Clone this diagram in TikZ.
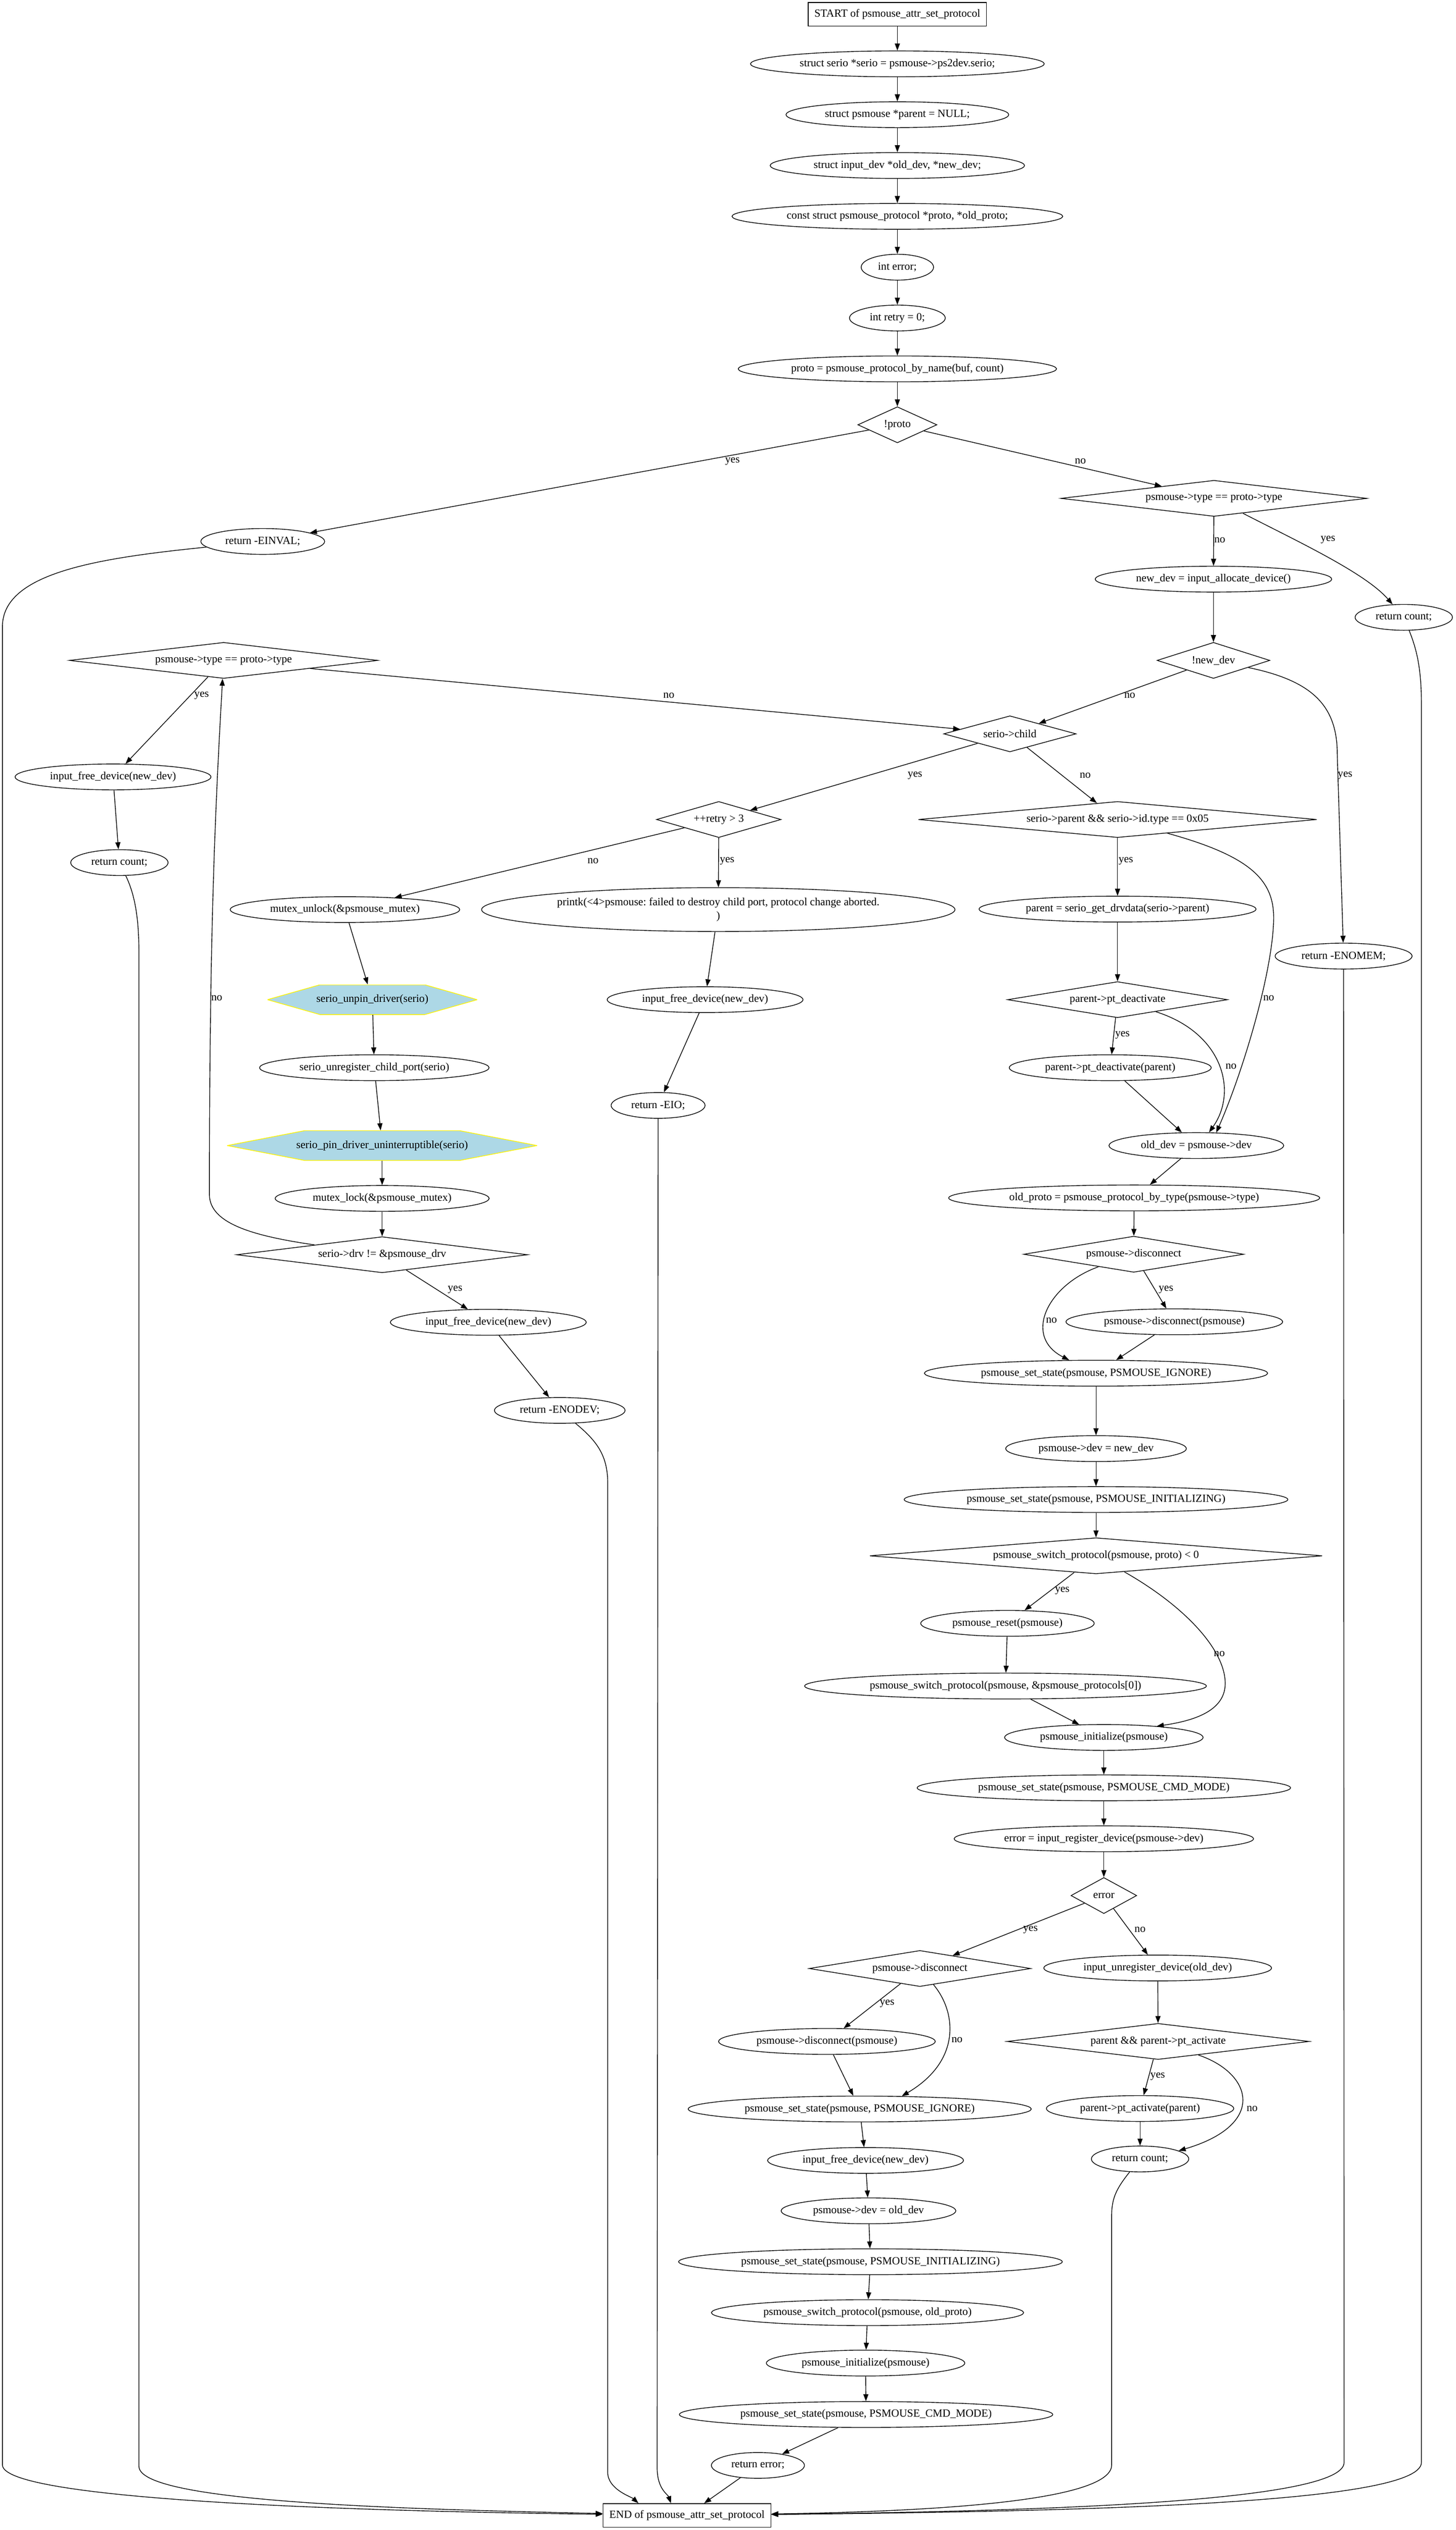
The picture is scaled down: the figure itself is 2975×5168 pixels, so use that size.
\documentclass[tikz,border=0pt]{standalone}
\usepackage{fontspec}
\setmainfont{Liberation Serif}
\usepackage{tikz}
\usetikzlibrary{positioning}
\usetikzlibrary{shapes.geometric}
\usetikzlibrary{arrows.meta}
\definecolor{hexblue}{HTML}{ADD8E6}
\frenchspacing

\begin{document}
\begin{tikzpicture}[
                          x=0.625pt, y=-0.625pt,
                          font=\fontsize{14}{17.5}\selectfont,
                          line width=0.9pt,
                          >={Triangle[length=9pt, width=6.5pt]},
                          node distance=31pt,
                          roundnode/.style={ellipse, draw, inner xsep=8pt, inner ysep=2pt, minimum height=33pt},
                          squarednode/.style={rectangle, draw, inner xsep=8pt, minimum height=30pt},
                          diamondnode/.style 2 args={diamond, draw, inner sep=0pt, minimum width=#1, minimum height=46pt, aspect=#2},
                          hexnode/.style={rectangle, inner sep=0pt, minimum width=#1, minimum height=38pt,
                              path picture={\filldraw[fill=hexblue, draw=yellow]
                                  (path picture bounding box.west) -- ([xshift=#1/4]path picture bounding box.north west)
                                  -- ([xshift=-#1/4]path picture bounding box.north east) -- (path picture bounding box.east)
                                  -- ([xshift=-#1/4]path picture bounding box.south east) -- ([xshift=#1/4]path picture bounding box.south west) -- cycle;}},
                          edgelabel/.style={inner sep=0pt},
                      ]
                      \useasboundingbox (0,0) rectangle (2975,5168);
                      % Nodes
                      \node[squarednode]      (start)    at (1834,29)     {START of psmouse\_attr\_set\_protocol};
                      \node[roundnode]        (serio_ptr)      [below=of start]      {struct serio *serio = psmouse->ps2dev.serio;};
                      \node[roundnode]        (parent_ptr)     [below=of serio_ptr]  {struct psmouse *parent = NULL;};
                      \node[roundnode]        (dev_ptrs)       [below=of parent_ptr] {struct input\_dev *old\_dev, *new\_dev;};
                      \node[roundnode]        (proto_ptrs)     [below=of dev_ptrs]   {const struct psmouse\_protocol *proto, *old\_proto;};
                      \node[roundnode]        (int_error)      [below=of proto_ptrs] {int error;};
                      \node[roundnode]        (int_retry)      [below=of int_error]  {int retry = 0;};
                      \node[roundnode]        (proto_by_name)  [below=of int_retry]  {proto = psmouse\_protocol\_by\_name(buf, count)};
                      \node[diamondnode={101pt}{2.19}] (proto_chk) [below=of proto_by_name] {!proto};

                      \node[roundnode]        (einval)   at (537,1106)    {return -EINVAL;};
                      \node[diamondnode={391pt}{8.45}] (type_chk_1) at (2481,1018) {psmouse->type == proto->type};
                      \node[roundnode]        (ret_count_1)   at (2869,1261)  {return count;};
                      \node[roundnode]        (new_dev)  at (2480,1183)   {new\_dev = input\_allocate\_device()};
                      \node[diamondnode={144pt}{3.12}] (new_dev_chk) at (2480,1349) {!new\_dev};
                      \node[diamondnode={394pt}{8.5}]  (type_chk_2)  at (457,1349)  {psmouse->type == proto->type};
                      \node[diamondnode={169pt}{3.66}] (child_chk)   at (2064,1499) {serio->child};
                      \node[roundnode]        (free_dev_1)    at (231,1587)   {input\_free\_device(new\_dev)};
                      \node[roundnode]        (ret_count_2)   at (244,1762)   {return count;};
                      \node[diamondnode={159pt}{3.43}] (retry_chk)   at (1469,1674) {++retry > 3};
                      \node[diamondnode={509pt}{11}]   (parent_chk)  at (2284,1674) {serio->parent \&\& serio->id.type == 0x05};
                      \node[roundnode]        (enomem)   at (2746,1953)   {return -ENOMEM;};
                      \node[roundnode]        (mutex_unlock)  at (705,1858)   {mutex\_unlock(\&psmouse\_mutex)};
                      \node[roundnode, minimum height=56pt, align=center] (printk) at (1468,1858) {printk(<4>psmouse: failed to destroy child port, protocol change aborted.\\)};
                      \node[roundnode]        (get_parent)    at (2284,1857)  {parent = serio\_get\_drvdata(serio->parent)};
                      \node[hexnode=268pt]    (unpin)    at (761,2042)    {serio\_unpin\_driver(serio)};
                      \node[roundnode]        (free_dev_2)    at (1441,2042)  {input\_free\_device(new\_dev)};
                      \node[diamondnode={281pt}{6.08}] (deact_chk)   at (2284,2042) {parent->pt\_deactivate};
                      \node[roundnode]        (unreg_child)   at (765,2181)   {serio\_unregister\_child\_port(serio)};
                      \node[roundnode]        (eio)      at (1345,2258)   {return -EIO;};
                      \node[roundnode]        (deactivate)    at (2269,2181)  {parent->pt\_deactivate(parent)};
                      \node[hexnode=396pt]    (pin)      at (781,2340)    {serio\_pin\_driver\_uninterruptible(serio)};
                      \node[roundnode]        (old_dev)  at (2445,2340)   {old\_dev = psmouse->dev};
                      \node[roundnode]        (mutex_lock)    at (781,2448)   {mutex\_lock(\&psmouse\_mutex)};
                      \node[roundnode]        (old_proto)     at (2318,2447)  {old\_proto = psmouse\_protocol\_by\_type(psmouse->type)};
                      \node[diamondnode={372pt}{8.05}] (drv_chk)     at (781,2563)  {serio->drv != \&psmouse\_drv};
                      \node[diamondnode={281pt}{6.08}] (disc_chk_1)  at (2317,2562) {psmouse->disconnect};
                      \node[roundnode]        (free_dev_3)    at (998,2701)   {input\_free\_device(new\_dev)};
                      \node[roundnode]        (disconnect_1)  at (2400,2700)  {psmouse->disconnect(psmouse)};
                      \node[roundnode]        (ignore_1)      at (2240,2805)  {psmouse\_set\_state(psmouse, PSMOUSE\_IGNORE)};
                      \node[roundnode]        (enodev)   at (1144,2881)   {return -ENODEV;};
                      \node[roundnode]        (dev_new)  at (2240,2959)   {psmouse->dev = new\_dev};
                      \node[roundnode]        (init_state_1)  at (2240,3063)  {psmouse\_set\_state(psmouse, PSMOUSE\_INITIALIZING)};
                      \node[diamondnode={578pt}{12.5}] (switch_chk)  at (2240,3178) {psmouse\_switch\_protocol(psmouse, proto) < 0};
                      \node[roundnode]        (reset)    at (2059,3316)   {psmouse\_reset(psmouse)};
                      \node[roundnode]        (switch_default) at (2055,3444) {psmouse\_switch\_protocol(psmouse, \&psmouse\_protocols[0])};
                      \node[roundnode]        (initialize_1)  at (2256,3549)  {psmouse\_initialize(psmouse)};
                      \node[roundnode]        (cmd_mode_1)    at (2256,3652)  {psmouse\_set\_state(psmouse, PSMOUSE\_CMD\_MODE)};
                      \node[roundnode]        (register_dev)  at (2256,3756)  {error = input\_register\_device(psmouse->dev)};
                      \node[diamondnode={84pt}{1.82}]  (error_chk)   at (2256,3872) {error};
                      \node[diamondnode={283pt}{6.1}]  (disc_chk_2)  at (1880,4021) {psmouse->disconnect};
                      \node[roundnode]        (unregister)    at (2366,4020)  {input\_unregister\_device(old\_dev)};
                      \node[roundnode]        (disconnect_2)  at (1690,4170)  {psmouse->disconnect(psmouse)};
                      \node[diamondnode={386pt}{8.34}] (activate_chk) at (2367,4170) {parent \&\& parent->pt\_activate};
                      \node[roundnode]        (ignore_2)      at (1757,4308)  {psmouse\_set\_state(psmouse, PSMOUSE\_IGNORE)};
                      \node[roundnode]        (activate)      at (2330,4307)  {parent->pt\_activate(parent)};
                      \node[roundnode]        (free_dev_4)    at (1769,4413)  {input\_free\_device(new\_dev)};
                      \node[roundnode]        (ret_count_3)   at (2330,4410)  {return count;};
                      \node[roundnode]        (dev_old)  at (1775,4516)   {psmouse->dev = old\_dev};
                      \node[roundnode]        (init_state_2)  at (1779,4620)  {psmouse\_set\_state(psmouse, PSMOUSE\_INITIALIZING)};
                      \node[roundnode]        (switch_old)    at (1773,4724)  {psmouse\_switch\_protocol(psmouse, old\_proto)};
                      \node[roundnode]        (initialize_2)  at (1769,4827)  {psmouse\_initialize(psmouse)};
                      \node[roundnode]        (cmd_mode_2)    at (1770,4932)  {psmouse\_set\_state(psmouse, PSMOUSE\_CMD\_MODE)};
                      \node[roundnode]        (ret_error)     at (1549,5036)  {return error;};
                      \node[squarednode]      (finish)   at (1404,5138)   {END of psmouse\_attr\_set\_protocol};

                      %Lines
                      \draw[->] (start) -- (serio_ptr);
                      \draw[->] (serio_ptr) -- (parent_ptr);
                      \draw[->] (parent_ptr) -- (dev_ptrs);
                      \draw[->] (dev_ptrs) -- (proto_ptrs);
                      \draw[->] (proto_ptrs) -- (int_error);
                      \draw[->] (int_error) -- (int_retry);
                      \draw[->] (int_retry) -- (proto_by_name);
                      \draw[->] (proto_by_name) -- (proto_chk);
                      \draw[->] (proto_chk) -- (einval) node[edgelabel] at (1497,942) {yes};
                      \draw[->] (proto_chk) -- (type_chk_1) node[edgelabel] at (2208,942) {no};
                      \draw[->] (type_chk_1) -- (new_dev) node[edgelabel] at (2493,1103) {no};
                      \draw[->] (type_chk_1) .. controls (2650,1105) and (2790,1170) .. (ret_count_1) node[edgelabel] at (2714,1103) {yes};
                      \draw[->] (new_dev) -- (new_dev_chk);
                      \draw[->] (new_dev_chk) -- (child_chk) node[edgelabel] at (2309,1421) {no};
                      \draw[->] (new_dev_chk) .. controls (2680,1390) and (2733,1440) .. (2733,1540) -- (enomem) node[edgelabel] at (2749,1584) {yes};
                      \draw[->] (type_chk_2) -- (free_dev_1) node[edgelabel] at (412,1421) {yes};
                      \draw[->] (type_chk_2) -- (child_chk) node[edgelabel] at (1367,1421) {no};
                      \draw[->] (free_dev_1) -- (ret_count_2);
                      \draw[->] (child_chk) -- (retry_chk) node[edgelabel] at (1870,1584) {yes};
                      \draw[->] (child_chk) -- (parent_chk) node[edgelabel] at (2218,1584) {no};
                      \draw[->] (retry_chk) -- (mutex_unlock) node[edgelabel] at (1212,1759) {no};
                      \draw[->] (retry_chk) -- (printk) node[edgelabel] at (1486,1759) {yes};
                      \draw[->] (printk) -- (free_dev_2);
                      \draw[->] (free_dev_2) -- (eio);
                      \draw[->] (mutex_unlock) -- (unpin);
                      \draw[->] (unpin) -- (unreg_child);
                      \draw[->] (unreg_child) -- (pin);
                      \draw[->] (pin) -- (mutex_lock);
                      \draw[->] (mutex_lock) -- (drv_chk);
                      \draw[->] (drv_chk) .. controls (520,2525) and (428,2500) .. (428,2440) .. controls (428,1900) and (440,1650) .. (type_chk_2) node[edgelabel] at (443,2039) {no};
                      \draw[->] (drv_chk) -- (free_dev_3) node[edgelabel] at (930,2634) {yes};
                      \draw[->] (free_dev_3) -- (enodev);
                      \draw[->] (parent_chk) -- (get_parent) node[edgelabel] at (2301,1759) {yes};
                      \draw[->] (parent_chk) .. controls (2560,1750) and (2605,1800) .. (2603,1880) .. controls (2600,1990) and (2540,2190) .. (old_dev.33) node[edgelabel] at (2593,2039) {no};
                      \draw[->] (get_parent) -- (deact_chk);
                      \draw[->] (deact_chk) -- (deactivate) node[edgelabel] at (2294,2114) {yes};
                      \draw[->] (deact_chk) .. controls (2500,2110) and (2530,2230) .. (old_dev.46) node[edgelabel] at (2516,2178) {no};
                      \draw[->] (deactivate) -- (old_dev);
                      \draw[->] (old_dev) -- (old_proto);
                      \draw[->] (old_proto) -- (disc_chk_1);
                      \draw[->] (disc_chk_1) -- (disconnect_1) node[edgelabel] at (2383,2634) {yes};
                      \draw[->] (disc_chk_1) .. controls (2140,2625) and (2090,2730) .. (ignore_1.154) node[edgelabel] at (2149,2697) {no};
                      \draw[->] (disconnect_1) -- (ignore_1);
                      \draw[->] (ignore_1) -- (dev_new);
                      \draw[->] (dev_new) -- (init_state_1);
                      \draw[->] (init_state_1) -- (switch_chk);
                      \draw[->] (switch_chk) -- (reset) node[edgelabel] at (2171,3249) {yes};
                      \draw[->] (switch_chk) .. controls (2420,3280) and (2505,3370) .. (2504,3440) .. controls (2503,3495) and (2440,3515) .. (initialize_1.12) node[edgelabel] at (2492,3378) {no};
                      \draw[->] (reset) -- (switch_default);
                      \draw[->] (switch_default) -- (initialize_1);
                      \draw[->] (initialize_1) -- (cmd_mode_1);
                      \draw[->] (cmd_mode_1) -- (register_dev);
                      \draw[->] (register_dev) -- (error_chk);
                      \draw[->] (error_chk) -- (disc_chk_2) node[edgelabel] at (2106,3942) {yes};
                      \draw[->] (error_chk) -- (unregister) node[edgelabel] at (2330,3942) {no};
                      \draw[->] (disc_chk_2) -- (disconnect_2) node[edgelabel] at (1813,4093) {yes};
                      \draw[->] (disc_chk_2) .. controls (1955,4110) and (1965,4210) .. (ignore_2.17) node[edgelabel] at (1956,4167) {no};
                      \draw[->] (disconnect_2) -- (ignore_2);
                      \draw[->] (unregister) -- (activate_chk);
                      \draw[->] (activate_chk) -- (activate) node[edgelabel] at (2366,4242) {yes};
                      \draw[->] (activate_chk) .. controls (2560,4235) and (2590,4340) .. (ret_count_3.12) node[edgelabel] at (2559,4307) {no};
                      \draw[->] (activate) -- (ret_count_3);
                      \draw[->] (ignore_2) -- (free_dev_4);
                      \draw[->] (free_dev_4) -- (dev_old);
                      \draw[->] (dev_old) -- (init_state_2);
                      \draw[->] (init_state_2) -- (switch_old);
                      \draw[->] (switch_old) -- (initialize_2);
                      \draw[->] (initialize_2) -- (cmd_mode_2);
                      \draw[->] (cmd_mode_2) -- (ret_error);
                      \draw[->] (ret_error) -- (finish);
                      \draw[->] (einval) .. controls (200,1140) and (5,1170) .. (5,1280) -- (5,5035) .. controls (5,5100) and (600,5128) .. (finish);
                      \draw[->] (ret_count_2) .. controls (277,1830) and (284,1880) .. (284,1950) -- (284,5038) .. controls (284,5110) and (800,5125) .. (finish);
                      \draw[->] (enodev) .. controls (1222,2945) and (1242,2975) .. (1242,3030) -- (1242,5050) .. controls (1242,5085) and (1290,5100) .. (finish.166);
                      \draw[->] (eio) -- (1343,5040) .. controls (1343,5085) and (1365,5095) .. (finish.143);
                      \draw[->] (ret_count_3) .. controls (2282,4470) and (2272,4490) .. (2272,4525) -- (2272,5035) .. controls (2272,5110) and (1900,5130) .. (finish);
                      \draw[->] (enomem) -- (2747,5030) .. controls (2747,5112) and (2100,5130) .. (finish);
                      \draw[->] (ret_count_1) .. controls (2897,1330) and (2905,1370) .. (2905,1440) -- (2905,5030) .. controls (2905,5115) and (2200,5130) .. (finish);
                  \end{tikzpicture}
\end{document}
